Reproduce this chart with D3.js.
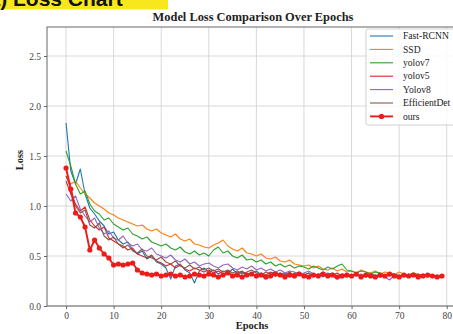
<!DOCTYPE html>
<html><head><meta charset="utf-8">
<script src="https://cdn.jsdelivr.net/npm/d3@7"></script>
<style>html,body{margin:0;padding:0;background:#fff;overflow:hidden}</style>
</head><body><svg id="chart" width="453" height="334"></svg>
<script>
const seriesNames = ["Fast-RCNN","SSD","yolov7","yolov5","Yolov8","EfficientDet","ours"];
const seriesColors = ["#1f77b4","#ff7f0e","#2ca02c","#d62728","#9467bd","#8c564b","#ee1b1b"];
const xTicks = [0,10,20,30,40,50,60,70,80];
const yTicks = [0.0,0.5,1.0,1.5,2.0,2.5];

const fastRcnn = [1.83,1.35,1.22,1.37,1.12,0.98,0.92,0.85,0.80,0.72,
0.74,0.66,0.62,0.64,0.56,0.52,0.55,0.47,0.50,0.44,
0.42,0.38,0.27,0.40,0.42,0.36,0.33,0.23,0.35,0.38,
0.34,0.36,0.32,0.35,0.33,0.37,0.32,0.34,0.30,0.33,
0.35,0.31,0.27,0.33,0.34,0.31,0.33,0.30,0.32,0.34,
0.31,0.33,0.30,0.32,0.29,0.33,0.31,0.30,0.32,0.31,
0.30,0.32,0.29,0.31,0.33,0.30,0.31,0.29,0.32,0.30,
0.31,0.29,0.32,0.30,0.31,0.29,0.30,0.31,0.29,0.30];
const ssd = [1.30,1.22,1.25,1.18,1.12,1.08,1.03,1.00,0.97,0.93,
0.91,0.88,0.86,0.84,0.82,0.80,0.81,0.77,0.75,0.77,
0.73,0.71,0.69,0.72,0.67,0.65,0.67,0.62,0.61,0.59,
0.58,0.61,0.63,0.66,0.60,0.57,0.55,0.58,0.53,0.52,
0.50,0.52,0.48,0.47,0.49,0.45,0.44,0.46,0.42,0.41,
0.40,0.41,0.38,0.40,0.37,0.36,0.38,0.35,0.37,0.34,
0.35,0.33,0.36,0.34,0.33,0.35,0.32,0.34,0.33,0.31,
0.34,0.32,0.31,0.33,0.32,0.30,0.32,0.31,0.30,0.31];
const yolov7 = [1.55,1.40,1.22,1.12,1.15,1.02,0.95,0.92,0.86,0.88,
0.82,0.79,0.76,0.78,0.72,0.70,0.67,0.69,0.64,0.62,
0.60,0.62,0.58,0.56,0.59,0.54,0.52,0.55,0.51,0.53,
0.50,0.56,0.59,0.53,0.55,0.50,0.48,0.51,0.46,0.47,
0.44,0.46,0.42,0.44,0.40,0.42,0.39,0.41,0.38,0.40,
0.39,0.37,0.40,0.38,0.36,0.39,0.37,0.40,0.42,0.36,
0.35,0.33,0.35,0.34,0.32,0.34,0.33,0.31,0.33,0.32,
0.30,0.32,0.31,0.33,0.30,0.32,0.31,0.30,0.31,0.30];
const yolov5 = [1.25,1.12,1.02,0.95,0.99,0.86,0.80,0.76,0.79,0.68,
0.65,0.62,0.60,0.56,0.58,0.52,0.50,0.48,0.51,0.45,
0.43,0.40,0.42,0.38,0.41,0.37,0.35,0.38,0.36,0.34,
0.36,0.33,0.35,0.32,0.34,0.31,0.33,0.35,0.31,0.32,
0.30,0.33,0.31,0.34,0.30,0.32,0.31,0.29,0.33,0.31,
0.32,0.30,0.31,0.29,0.32,0.30,0.31,0.33,0.30,0.29,
0.31,0.30,0.32,0.29,0.31,0.30,0.29,0.31,0.30,0.32,
0.30,0.31,0.29,0.30,0.32,0.30,0.29,0.31,0.30,0.29];
const yolov8 = [1.12,1.05,1.10,0.97,0.90,0.84,0.88,0.78,0.72,0.75,
0.68,0.66,0.70,0.63,0.60,0.62,0.56,0.55,0.58,0.52,
0.50,0.48,0.51,0.46,0.44,0.47,0.42,0.44,0.40,0.42,
0.43,0.40,0.38,0.41,0.42,0.38,0.36,0.39,0.37,0.40,
0.36,0.38,0.35,0.37,0.34,0.36,0.33,0.35,0.34,0.32,
0.33,0.35,0.32,0.31,0.34,0.32,0.30,0.27,0.32,0.31,
0.30,0.32,0.31,0.29,0.31,0.30,0.32,0.29,0.26,0.31,
0.30,0.31,0.29,0.32,0.30,0.29,0.31,0.30,0.29,0.30];
const efficientDet = [1.30,1.18,1.00,0.93,0.96,0.81,0.78,0.83,0.70,0.66,
0.69,0.62,0.58,0.61,0.55,0.53,0.57,0.50,0.48,0.46,
0.49,0.44,0.42,0.45,0.40,0.38,0.41,0.37,0.39,0.36,
0.38,0.35,0.37,0.34,0.36,0.33,0.35,0.32,0.34,0.36,
0.33,0.31,0.34,0.32,0.30,0.33,0.31,0.34,0.30,0.32,
0.31,0.33,0.29,0.32,0.30,0.31,0.33,0.30,0.29,0.32,
0.30,0.31,0.29,0.32,0.30,0.31,0.29,0.30,0.32,0.30,
0.29,0.31,0.30,0.32,0.29,0.30,0.31,0.29,0.30,0.31];
const ours = [1.38,1.17,0.93,0.89,0.79,0.56,0.66,0.58,0.52,0.48,
0.41,0.42,0.41,0.42,0.43,0.36,0.33,0.32,0.31,0.32,
0.30,0.31,0.32,0.30,0.31,0.29,0.30,0.32,0.31,0.30,
0.32,0.31,0.29,0.31,0.33,0.30,0.31,0.29,0.31,0.32,
0.30,0.31,0.29,0.30,0.32,0.31,0.29,0.31,0.30,0.32,
0.30,0.29,0.31,0.30,0.32,0.30,0.31,0.29,0.30,0.31,
0.30,0.32,0.29,0.31,0.30,0.29,0.31,0.30,0.32,0.30,
0.29,0.31,0.30,0.31,0.29,0.30,0.31,0.30,0.29,0.30];

const allSeries = [fastRcnn, ssd, yolov7, yolov5, yolov8, efficientDet, ours];

(function(){
const svg = d3.select("#chart");
const pLeft = 47, pTop = 27, pBottom = 306, pRight = 461;

const x = d3.scaleLinear().domain([-4, 83]).range([pLeft, pRight]);
const y = d3.scaleLinear().domain([0, 2.79]).range([pBottom, pTop]);

const serif = "'Liberation Serif','Times New Roman',serif";

// top-left label (cropped at the top edge, as in the reference)
svg.append("rect").attr("x",0).attr("y",0).attr("width",168).attr("height",9.5).attr("fill","#f7e71c");
svg.append("text").attr("x",-18.5).attr("y",6).attr("font-family","'Liberation Sans',Arial,sans-serif")
  .attr("font-weight","bold").attr("font-size",21).attr("fill","#111").text("(a) Loss Chart");

const clipId = "plotclip";
svg.append("clipPath").attr("id",clipId).append("rect")
  .attr("x",pLeft).attr("y",pTop).attr("width",pRight-pLeft).attr("height",pBottom-pTop);

// grid
const grid = svg.append("g");
grid.selectAll("line.gx").data(xTicks).join("line").attr("class","gx")
  .attr("x1",d=>x(d)).attr("x2",d=>x(d)).attr("y1",pTop).attr("y2",pBottom)
  .attr("stroke","#d4d4d4").attr("stroke-width",0.9);
grid.selectAll("line.gy").data(yTicks).join("line").attr("class","gy")
  .attr("x1",pLeft).attr("x2",pRight).attr("y1",d=>y(d)).attr("y2",d=>y(d))
  .attr("stroke","#d4d4d4").attr("stroke-width",0.9);

// lines
const plot = svg.append("g").attr("clip-path",`url(#${clipId})`);
const line = d3.line().x((d,i)=>x(i)).y(d=>y(d));
allSeries.forEach((s,k)=>{
  if (k===6) return;
  plot.append("path").datum(s).attr("d",line).attr("fill","none")
    .attr("stroke",seriesColors[k]).attr("stroke-width",1.1).attr("stroke-linejoin","round");
});
plot.append("path").datum(ours).attr("d",line).attr("fill","none")
  .attr("stroke",seriesColors[6]).attr("stroke-width",1.9).attr("stroke-linejoin","round");
plot.selectAll("circle.o").data(ours).join("circle").attr("class","o")
  .attr("cx",(d,i)=>x(i)).attr("cy",d=>y(d)).attr("r",2.6).attr("fill",seriesColors[6]);

// axes
const xAxis = d3.axisBottom(x).tickValues(xTicks).tickSize(3).tickPadding(3).tickFormat(d3.format("d"));
const yAxis = d3.axisLeft(y).tickValues(yTicks).tickSize(3).tickPadding(3).tickFormat(d3.format(".1f"));
const gx = svg.append("g").attr("transform",`translate(0,${pBottom})`).call(xAxis);
const gy = svg.append("g").attr("transform",`translate(${pLeft},0)`).call(yAxis);
[gx,gy].forEach(g=>{
  g.select(".domain").remove();
  g.selectAll(".tick line").attr("stroke","#666");
  g.selectAll(".tick text").attr("font-family",serif).attr("font-size",9.5).attr("fill","#444");
});
svg.append("rect").attr("x",pLeft).attr("y",pTop).attr("width",pRight-pLeft).attr("height",pBottom-pTop)
  .attr("fill","none").attr("stroke","#666").attr("stroke-width",1);

// title and labels
svg.append("text").attr("x",253).attr("y",21).attr("text-anchor","middle").attr("font-family",serif)
  .attr("font-weight","bold").attr("font-size",12.4).attr("fill","#222").text("Model Loss Comparison Over Epochs");
svg.append("text").attr("x",252).attr("y",329).attr("text-anchor","middle").attr("font-family",serif)
  .attr("font-weight","bold").attr("font-size",10.5).attr("fill","#222").text("Epochs");
svg.append("text").attr("transform","translate(23,160) rotate(-90)").attr("text-anchor","middle").attr("font-family",serif)
  .attr("font-weight","bold").attr("font-size",10.5).attr("fill","#222").text("Loss");

// legend
const lg = svg.append("g");
lg.append("rect").attr("x",366).attr("y",29).attr("width",100).attr("height",96).attr("rx",2)
  .attr("fill","#fff").attr("fill-opacity",0.85).attr("stroke","#ccc").attr("stroke-width",0.9);
seriesNames.forEach((n,k)=>{
  const yy = 36 + k*13.4;
  lg.append("line").attr("x1",370).attr("x2",393).attr("y1",yy).attr("y2",yy)
    .attr("stroke",seriesColors[k]).attr("stroke-width",k===6?1.9:1.1);
  if (k===6) lg.append("circle").attr("cx",381.5).attr("cy",yy).attr("r",2.6).attr("fill",seriesColors[k]);
  lg.append("text").attr("x",403).attr("y",yy+3.2).attr("font-family",serif).attr("font-size",9.6)
    .attr("fill","#222").text(n);
});
})();
</script></body></html>
